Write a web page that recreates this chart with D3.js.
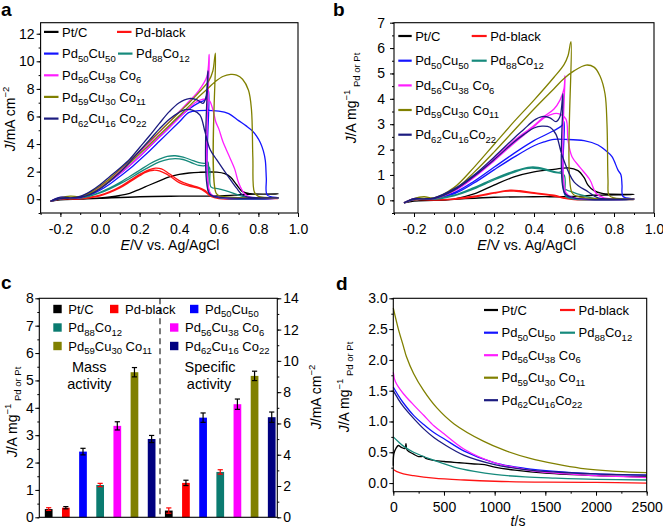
<!DOCTYPE html>
<html>
<head>
<meta charset="utf-8">
<script src="https://cdn.jsdelivr.net/npm/d3@7"></script>
<style>
body { margin: 0; background: #fff; }
svg { font-family: "Liberation Sans", Arial, Helvetica, sans-serif; }
</style>
</head>
<body>
<script>
// ---- series names / colours (same order in every panel)
var names = ["Pt/C", "Pd-black", "Pd_50Cu_50", "Pd_88Co_12", "Pd_56Cu_38 Co_6", "Pd_59Cu_30 Co_11", "Pd_62Cu_16 Co_22"];
var namesBD = ["Pt/C", "Pd-black", "Pd_50Cu_50", "Pd_88Co_12", "Pd_56Cu_38 Co_6", "Pd_59Cu_30 Co_11", "Pd_62Cu_16Co_22"];
var lineColors = ["#000000", "#ff1414", "#1414ff", "#168a7c", "#ff1eff", "#808000", "#1c1c80"];
var barColors = ["#000000", "#ff0000", "#0000ff", "#0b7b70", "#ff00ff", "#808000", "#000080"];

// ---- panel a: CV, J / mA cm-2 vs E / V  ([E, J], forward then reverse)
var cvA_ptc = [[-0.25,-0.15],[-0.2,0.05],[-0.1,0.0],[0,0.1],[0.05,0.17],[0.1,0.27],[0.15,0.43],[0.2,0.72],[0.25,1.03],[0.3,1.33],[0.35,1.62],[0.4,1.8],[0.45,1.9],[0.5,1.95],[0.59,1.96],[0.63,1.85],[0.66,1.6],[0.69,1.05],[0.72,0.55],[0.76,0.4],[0.9,0.38],
  [0.75,0.36],[0.68,0.3],[0.6,0.24],[0.4,0.22],[0.2,0.18],[0,0.06],[-0.1,0.0],[-0.2,-0.05],[-0.25,-0.15]];
var cvA_pdb = [[-0.25,-0.15],[-0.2,0.1],[-0.15,0.05],[-0.1,0.05],[-0.05,0.15],[0,0.3],[0.05,0.55],[0.1,0.9],[0.15,1.35],[0.2,1.8],[0.25,2.15],[0.28,2.25],[0.31,2.2],[0.35,1.85],[0.4,1.35],[0.45,1.05],[0.5,0.85],[0.53,0.65],[0.56,0.25],[0.6,0.08],[0.9,0.05],
  [0.6,0.04],[0.56,0.2],[0.53,0.55],[0.5,0.78],[0.45,0.95],[0.4,1.2],[0.35,1.7],[0.3,2.05],[0.27,2.1],[0.23,1.95],[0.2,1.7],[0.15,1.25],[0.1,0.82],[0.05,0.5],[0,0.25],[-0.1,0.03],[-0.2,0.0],[-0.25,-0.15]];
var cvA_cu = [[-0.25,-0.15],[-0.2,0.12],[-0.15,0.08],[-0.1,0.15],[-0.05,0.4],[0,0.8],[0.05,1.3],[0.1,1.85],[0.15,2.45],[0.2,3.1],[0.25,3.8],[0.3,4.5],[0.35,5.2],[0.4,5.95],[0.45,6.55],[0.5,7.0],[0.53,7.2],[0.548,7.9],[0.556,0.4],[0.6,0.12],[0.9,0.1],
  [0.845,0.3],[0.84,1.5],[0.835,2.8],[0.825,3.5],[0.81,4.1],[0.79,4.6],[0.77,4.95],[0.74,5.3],[0.7,5.7],[0.65,6.2],[0.6,6.38],[0.5,6.42],[0.45,6.3],[0.4,5.6],[0.35,4.9],[0.3,4.2],[0.25,3.5],[0.2,2.85],[0.15,2.2],[0.1,1.65],[0.05,1.1],[0,0.65],[-0.05,0.3],[-0.1,0.1],[-0.2,0.05],[-0.25,-0.15]];
var cvA_co = [[-0.25,-0.15],[-0.2,0.1],[-0.15,0.05],[-0.1,0.1],[-0.05,0.25],[0,0.5],[0.05,0.82],[0.1,1.2],[0.15,1.65],[0.2,2.1],[0.25,2.55],[0.3,2.9],[0.34,3.1],[0.38,3.15],[0.42,3.05],[0.47,2.8],[0.5,2.65],[0.53,2.6],[0.545,2.7],[0.552,0.4],[0.6,0.12],[0.9,0.08],
  [0.75,0.1],[0.7,0.3],[0.65,0.55],[0.6,0.75],[0.56,0.9],[0.553,2.3],[0.54,2.45],[0.52,2.42],[0.5,2.45],[0.47,2.6],[0.42,2.88],[0.38,2.95],[0.35,2.9],[0.3,2.7],[0.25,2.35],[0.2,1.95],[0.15,1.5],[0.1,1.1],[0.05,0.75],[0,0.45],[-0.05,0.22],[-0.1,0.08],[-0.2,0.05],[-0.25,-0.15]];
var cvA_cc6 = [[-0.25,-0.15],[-0.2,0.12],[-0.15,0.1],[-0.1,0.15],[-0.05,0.45],[0,0.9],[0.05,1.45],[0.1,2.05],[0.15,2.7],[0.2,3.4],[0.25,4.1],[0.3,4.85],[0.35,5.6],[0.4,6.35],[0.45,7.1],[0.5,7.9],[0.54,8.9],[0.552,10.5],[0.558,0.4],[0.6,0.15],[0.9,0.1],
  [0.76,0.15],[0.73,0.4],[0.7,1.2],[0.68,2.2],[0.65,3.2],[0.62,4.2],[0.6,5.1],[0.585,5.6],[0.57,6.5],[0.55,7.2],[0.52,7.25],[0.48,7.0],[0.45,6.6],[0.4,5.9],[0.35,5.2],[0.3,4.5],[0.25,3.8],[0.2,3.1],[0.15,2.45],[0.1,1.85],[0.05,1.3],[0,0.8],[-0.05,0.4],[-0.1,0.12],[-0.2,0.05],[-0.25,-0.15]];
var cvA_cc11 = [[-0.25,-0.15],[-0.2,0.1],[-0.15,0.22],[-0.1,0.2],[-0.05,0.5],[0,0.95],[0.05,1.5],[0.1,2.15],[0.15,2.8],[0.2,3.5],[0.25,4.2],[0.3,4.9],[0.35,5.6],[0.4,6.3],[0.45,7.0],[0.5,7.75],[0.55,8.6],[0.57,9.3],[0.583,10.6],[0.588,0.4],[0.62,0.2],[0.9,0.1],
  [0.8,0.2],[0.78,0.5],[0.772,3.0],[0.765,6.5],[0.75,7.9],[0.72,8.7],[0.69,9.0],[0.66,9.05],[0.62,8.9],[0.58,8.5],[0.55,8.1],[0.5,7.45],[0.45,6.75],[0.4,6.05],[0.35,5.35],[0.3,4.65],[0.25,3.95],[0.2,3.3],[0.15,2.6],[0.1,1.95],[0.05,1.35],[0,0.8],[-0.05,0.4],[-0.1,0.15],[-0.15,0.1],[-0.2,0.05],[-0.25,-0.15]];
var cvA_cc22 = [[-0.25,-0.15],[-0.2,0.15],[-0.15,0.1],[-0.1,0.2],[-0.05,0.55],[0,1.05],[0.05,1.65],[0.1,2.25],[0.15,2.9],[0.2,3.75],[0.25,4.6],[0.3,5.5],[0.35,6.35],[0.4,7.0],[0.45,7.3],[0.49,7.2],[0.52,6.95],[0.535,7.4],[0.545,9.3],[0.552,0.4],[0.6,0.15],[0.9,0.1],
  [0.75,0.15],[0.72,0.3],[0.69,0.8],[0.64,1.8],[0.59,2.85],[0.556,3.6],[0.53,4.9],[0.505,6.1],[0.47,6.45],[0.43,6.5],[0.4,6.3],[0.35,5.8],[0.3,5.1],[0.25,4.3],[0.2,3.5],[0.15,2.7],[0.1,1.95],[0.05,1.3],[0,0.75],[-0.05,0.35],[-0.1,0.12],[-0.2,0.05],[-0.25,-0.15]];

// ---- panel b: CV, J / A mg-1 vs E / V
var cvB_ptc = [[-0.25,-0.1],[-0.2,0.03],[-0.1,0.0],[0,0.05],[0.1,0.25],[0.2,0.6],[0.3,0.92],[0.4,1.12],[0.5,1.22],[0.57,1.28],[0.62,1.17],[0.65,0.9],[0.67,0.6],[0.7,0.38],[0.74,0.27],[0.9,0.23],
  [0.7,0.2],[0.6,0.15],[0.4,0.14],[0.2,0.12],[0,0.04],[-0.1,0.0],[-0.2,-0.03],[-0.25,-0.1]];
var cvB_pdb = [[-0.25,-0.1],[-0.2,0.05],[-0.1,0.02],[0,0.06],[0.1,0.16],[0.2,0.3],[0.28,0.4],[0.33,0.38],[0.4,0.3],[0.5,0.2],[0.55,0.1],[0.6,0.04],[0.9,0.03],
  [0.6,0.03],[0.55,0.08],[0.5,0.17],[0.4,0.27],[0.3,0.36],[0.25,0.35],[0.2,0.28],[0.1,0.13],[0,0.04],[-0.1,0.01],[-0.2,0.02],[-0.25,-0.1]];
var cvB_cu = [[-0.25,-0.1],[-0.2,0.07],[-0.15,0.06],[-0.1,0.08],[0,0.3],[0.1,0.75],[0.2,1.3],[0.3,1.85],[0.4,2.35],[0.5,2.75],[0.54,2.95],[0.55,3.1],[0.556,0.2],[0.6,0.08],[0.9,0.05],
  [0.845,0.15],[0.84,0.6],[0.835,1.0],[0.82,1.19],[0.79,1.72],[0.76,1.95],[0.72,2.18],[0.65,2.35],[0.555,2.4],[0.5,2.4],[0.45,2.3],[0.4,2.15],[0.3,1.7],[0.2,1.2],[0.1,0.68],[0,0.25],[-0.1,0.06],[-0.2,0.04],[-0.25,-0.1]];
var cvB_co = [[-0.25,-0.1],[-0.2,0.06],[-0.1,0.05],[0,0.2],[0.1,0.5],[0.2,0.85],[0.3,1.15],[0.37,1.3],[0.42,1.3],[0.47,1.2],[0.52,1.1],[0.54,1.12],[0.548,0.5],[0.6,0.3],[0.65,0.18],[0.7,0.08],[0.9,0.03],
  [0.6,0.05],[0.56,0.15],[0.55,1.0],[0.5,1.1],[0.42,1.25],[0.36,1.25],[0.3,1.1],[0.2,0.8],[0.1,0.45],[0,0.18],[-0.1,0.04],[-0.2,0.03],[-0.25,-0.1]];
var cvB_cc6 = [[-0.25,-0.1],[-0.2,0.07],[-0.15,0.06],[-0.1,0.08],[0,0.4],[0.1,0.95],[0.2,1.65],[0.3,2.35],[0.4,2.95],[0.45,3.3],[0.5,3.6],[0.53,3.95],[0.55,4.4],[0.555,4.9],[0.56,0.3],[0.6,0.1],[0.9,0.05],
  [0.75,0.1],[0.71,0.28],[0.68,0.8],[0.63,1.3],[0.59,1.72],[0.57,2.37],[0.56,3.2],[0.53,3.4],[0.5,3.42],[0.45,3.25],[0.4,2.9],[0.3,2.25],[0.2,1.55],[0.1,0.9],[0,0.36],[-0.1,0.07],[-0.2,0.04],[-0.25,-0.1]];
var cvB_cc11 = [[-0.25,-0.1],[-0.2,0.07],[-0.15,0.14],[-0.1,0.1],[0,0.5],[0.1,1.3],[0.2,2.2],[0.3,3.1],[0.4,3.95],[0.5,4.85],[0.55,5.35],[0.57,5.7],[0.585,6.25],[0.59,0.3],[0.62,0.15],[0.9,0.05],
  [0.8,0.1],[0.775,0.2],[0.77,0.8],[0.765,3.0],[0.755,4.2],[0.73,4.9],[0.7,5.25],[0.66,5.33],[0.6,5.1],[0.55,4.8],[0.5,4.4],[0.4,3.6],[0.3,2.75],[0.2,1.9],[0.1,1.1],[0,0.4],[-0.1,0.08],[-0.2,0.05],[-0.25,-0.1]];
var cvB_cc22 = [[-0.25,-0.1],[-0.2,0.07],[-0.15,0.06],[-0.1,0.1],[0,0.45],[0.1,1.0],[0.2,1.7],[0.3,2.45],[0.35,2.8],[0.4,3.15],[0.44,3.3],[0.48,3.25],[0.51,3.1],[0.53,3.3],[0.545,4.2],[0.552,0.3],[0.6,0.1],[0.9,0.05],
  [0.72,0.1],[0.67,0.34],[0.6,0.73],[0.54,1.78],[0.51,2.6],[0.48,2.88],[0.44,2.92],[0.4,2.85],[0.35,2.6],[0.3,2.3],[0.2,1.6],[0.1,0.95],[0,0.4],[-0.1,0.07],[-0.2,0.04],[-0.25,-0.1]];

// ---- panel c: bars
var massAct = [0.3, 0.35, 2.4, 1.18, 3.34, 5.3, 2.86];      // A mg-1 (left axis)
var massErr = [0.05, 0.04, 0.12, 0.06, 0.15, 0.17, 0.13];
var specAct = [0.43, 2.2, 6.37, 2.9, 7.23, 9.04, 6.4];      // mA cm-2 (right axis)
var specErr = [0.17, 0.17, 0.3, 0.14, 0.33, 0.3, 0.33];
var errColors = ["#ff0000", "#000000", "#000000", "#ff0000", "#000000", "#000000", "#000000"];

// ---- panel d: chronoamperometry [t, J]
var ca_ptc = [[0,0.28],[6,0.48],[25,0.56],[50,0.61],[80,0.58],[115,0.56],[125,0.64],[135,0.54],[200,0.47],[250,0.43],[300,0.43],[320,0.4],[400,0.37],[500,0.35],[650,0.33],[800,0.31],[900,0.3],[1000,0.26],[1200,0.21],[1500,0.16],[2000,0.12],[2500,0.1]];
var ca_pdb = [[0,0.22],[30,0.19],[100,0.15],[200,0.12],[400,0.08],[700,0.05],[1000,0.03],[1500,0.015],[2000,0.01],[2500,0.0]];
var ca_cu = [[0,1.56],[50,1.42],[100,1.3],[200,1.1],[300,0.95],[400,0.82],[500,0.72],[700,0.52],[1000,0.33],[1300,0.24],[1600,0.19],[2000,0.15],[2500,0.13]];
var ca_co = [[0,0.75],[50,0.67],[100,0.6],[200,0.5],[400,0.37],[600,0.26],[800,0.19],[1000,0.14],[1300,0.1],[1600,0.08],[2000,0.06],[2500,0.05]];
var ca_cc6 = [[0,1.8],[20,1.65],[100,1.45],[200,1.27],[300,1.1],[400,0.93],[500,0.8],[700,0.55],[1000,0.33],[1300,0.22],[1600,0.16],[2000,0.12],[2500,0.09]];
var ca_cc11 = [[0,2.84],[50,2.5],[100,2.22],[130,2.05],[200,1.78],[300,1.5],[430,1.22],[600,0.96],[888,0.68],[1100,0.53],[1350,0.4],[1600,0.31],[1850,0.24],[2200,0.19],[2500,0.17]];
var ca_cc22 = [[0,1.5],[50,1.36],[100,1.24],[200,1.05],[300,0.88],[400,0.74],[500,0.63],[700,0.45],[1000,0.3],[1300,0.22],[1600,0.18],[2000,0.15],[2500,0.13]];

var tickFont = 14, titleFont = 14, legFont = 13;

var svg = d3.select("body").append("svg").attr("width", 663).attr("height", 529);

// text with _sub digits
function rich(sel, label, sfs, sdy) {
  var parts = label.split(/(_\d+)/), shift = 0;
  parts.forEach(function(p) {
    if (!p) return;
    var sub = p.charAt(0) === "_";
    var t = sel.append("tspan").text(sub ? p.slice(1) : p);
    var target = sub ? sdy : 0;
    if (target !== shift) t.attr("dy", target - shift);
    shift = target;
    if (sub) t.attr("font-size", sfs);
  });
}
// text from segments {t, it, fs, off}
function segs(sel, list) {
  var shift = 0;
  list.forEach(function(s) {
    var t = sel.append("tspan").text(s.t);
    var off = s.off || 0;
    if (off !== shift) t.attr("dy", off - shift);
    shift = off;
    if (s.it) t.attr("font-style", "italic");
    if (s.fs) t.attr("font-size", s.fs);
  });
}
var segJmA = [{t:"J", it:true}, {t:"/mA cm"}, {t:"\u22122", fs:9.5, off:-6}];
var segJAmg = [{t:"J", it:true}, {t:"/A mg"}, {t:"\u22121", fs:9.5, off:-6}, {t:" Pd or Pt", fs:9.5, off:4}];

function yTitle(x, y, list) {
  var t = svg.append("text").attr("transform", "translate(" + x + "," + y + ") rotate(-90)")
    .attr("text-anchor", "middle").attr("font-size", titleFont);
  segs(t, list);
}
function xTitle(x, y, list) {
  var t = svg.append("text").attr("x", x).attr("y", y).attr("text-anchor", "middle").attr("font-size", titleFont);
  segs(t, list);
}
function styleAxis(g) {
  g.attr("font-family", null).attr("font-size", tickFont);
  g.select(".domain").remove();
  g.selectAll("text").attr("fill", "#000");
}

// axes + frame for line panels
function linePanel(o) {
  var x = d3.scaleLinear().domain(o.xd).range(o.xr);
  var y = d3.scaleLinear().domain(o.yd).range(o.yr);
  var g = svg.append("g");
  g.append("g").attr("transform", "translate(0," + o.yr[0] + ")")
    .call(d3.axisBottom(x).tickValues(o.xMinor).tickSize(2).tickFormat("")).call(styleAxis);
  g.append("g").attr("transform", "translate(0," + o.yr[0] + ")")
    .call(d3.axisBottom(x).tickValues(o.xMajor).tickSize(4).tickPadding(o.xPad).tickFormat(o.xFmt)).call(styleAxis);
  g.append("g").attr("transform", "translate(" + o.xr[0] + ",0)")
    .call(d3.axisLeft(y).tickValues(o.yMinor).tickSize(2).tickFormat("")).call(styleAxis);
  g.append("g").attr("transform", "translate(" + o.xr[0] + ",0)")
    .call(d3.axisLeft(y).tickValues(o.yMajor).tickSize(4).tickPadding(o.yPad).tickFormat(o.yFmt)).call(styleAxis);
  return {x: x, y: y, g: g};
}
function frame(x0, x1, y0, y1) {
  svg.append("rect").attr("x", x0).attr("y", y1).attr("width", x1 - x0).attr("height", y0 - y1)
    .attr("fill", "none").attr("stroke", "#000").attr("stroke-width", 1.1);
}
function drawLines(p, sets) {
  var line = d3.line().x(function(d) { return p.x(d[0]); }).y(function(d) { return p.y(d[1]); })
    .curve(d3.curveCatmullRom.alpha(0.5));
  sets.forEach(function(s, i) {
    p.g.append("path").attr("d", line(s)).attr("fill", "none")
      .attr("stroke", lineColors[i]).attr("stroke-width", 1.3).attr("stroke-linejoin", "round");
  });
}
function lineLegend(labels, pos) {
  labels.forEach(function(l, i) {
    var q = pos[i];
    svg.append("line").attr("x1", q[0]).attr("x2", q[0] + q[2]).attr("y1", q[1]).attr("y2", q[1])
      .attr("stroke", lineColors[i]).attr("stroke-width", 2.2);
    var t = svg.append("text").attr("x", q[0] + q[2] + 3.5).attr("y", q[1] + 4.6).attr("font-size", legFont);
    rich(t, l, 9.5, 3.5);
  });
}
function letter(l, x, y) {
  svg.append("text").attr("x", x).attr("y", y).attr("font-size", 19).attr("font-weight", "bold").text(l);
}
function fmt1(d) { return d.toFixed(1); }
function fmt0(d) { return String(d); }

// ================= panel a
var pa = linePanel({xd: [-0.3, 1.0], xr: [40.6, 298], yd: [-1, 12.8], yr: [213, 22.7],
  xMajor: d3.range(-0.2, 1.01, 0.2), xMinor: d3.range(-0.3, 1.01, 0.1), xFmt: fmt1, xPad: 7.5,
  yMajor: d3.range(0, 12.1, 2), yMinor: d3.range(-1, 12.1, 1), yFmt: fmt0, yPad: 2});
drawLines(pa, [cvA_ptc, cvA_pdb, cvA_cu, cvA_co, cvA_cc6, cvA_cc11, cvA_cc22]);
frame(40.6, 298, 213, 22.7);
var rA = [31.9, 53.6, 75.3, 96.9, 118.6];
lineLegend(names, [[44, rA[0], 14.5], [117, rA[0], 14.5], [44, rA[1], 14.5], [118, rA[1], 14.5], [44, rA[2], 14.5], [44, rA[3], 14.5], [44, rA[4], 14.5]]);
yTitle(15, 119, segJmA);
xTitle(170, 250, [{t:"E", it:true}, {t:"/V vs. Ag/AgCl"}]);
letter("a", 1, 16);

// ================= panel b
var pb = linePanel({xd: [-0.3, 1.0], xr: [394, 654], yd: [-0.5, 7], yr: [213, 22.7],
  xMajor: d3.range(-0.2, 1.01, 0.2), xMinor: d3.range(-0.3, 1.01, 0.1), xFmt: fmt1, xPad: 7.5,
  yMajor: d3.range(0, 7.1, 1), yMinor: d3.range(-0.5, 7.1, 0.5), yFmt: fmt0, yPad: 5});
drawLines(pb, [cvB_ptc, cvB_pdb, cvB_cu, cvB_co, cvB_cc6, cvB_cc11, cvB_cc22]);
frame(394, 654, 213, 22.7);
var rB = [36, 60.7, 85.4, 110, 134.7];
lineLegend(namesBD, [[398.3, rB[0], 13.4], [471.7, rB[0], 15], [398.3, rB[1], 13.4], [471.7, rB[1], 15], [398.3, rB[2], 13.4], [398.3, rB[3], 13.4], [398.3, rB[4], 13.4]]);
yTitle(356, 98, segJAmg);
xTitle(526.7, 250, [{t:"E", it:true}, {t:"/V vs. Ag/AgCl"}]);
letter("b", 333, 16);

// ================= panel c
var yL = d3.scaleLinear().domain([0, 8]).range([517.3, 298.3]);
var yR = d3.scaleLinear().domain([0, 14]).range([517.3, 298.3]);
var slots = d3.range(14);
var xb = d3.scaleBand().domain(slots).range([40.1, 280.3]).paddingInner(0.55).paddingOuter(0.275);
var gc = svg.append("g");
gc.append("g").attr("transform", "translate(39.3,0)")
  .call(d3.axisLeft(yL).tickValues(d3.range(0, 8.1, 0.5)).tickSize(2).tickFormat("")).call(styleAxis);
gc.append("g").attr("transform", "translate(39.3,0)")
  .call(d3.axisLeft(yL).tickValues(d3.range(0, 8.1, 1)).tickSize(4).tickPadding(1.5).tickFormat(fmt0)).call(styleAxis);
gc.append("g").attr("transform", "translate(277.3,0)")
  .call(d3.axisRight(yR).tickValues(d3.range(0, 14.1, 1)).tickSize(2).tickFormat("")).call(styleAxis);
gc.append("g").attr("transform", "translate(277.3,0)")
  .call(d3.axisRight(yR).tickValues(d3.range(0, 14.1, 2)).tickSize(4).tickPadding(2).tickFormat(fmt0)).call(styleAxis);

var barRows = [];
massAct.forEach(function(v, i) { barRows.push({slot: i, s: i, top: yL(v), hi: yL(v + massErr[i]), lo: yL(v - massErr[i])}); });
specAct.forEach(function(v, i) { barRows.push({slot: 7 + i, s: i, top: yR(v), hi: yR(v + specErr[i]), lo: yR(Math.max(0, v - specErr[i]))}); });

gc.selectAll(".bar").data(barRows).enter().append("rect")
  .attr("class", "bar")
  .attr("x", function(d) { return xb(d.slot); })
  .attr("y", function(d) { return d.top; })
  .attr("width", xb.bandwidth())
  .attr("height", function(d) { return 517.3 - d.top; })
  .attr("fill", function(d) { return barColors[d.s]; });
var eb = gc.selectAll(".err").data(barRows).enter().append("g").attr("class", "err")
  .attr("stroke", function(d) { return errColors[d.s]; }).attr("stroke-width", 1.2);
eb.append("line").attr("x1", function(d) { return xb(d.slot) + xb.bandwidth() / 2; })
  .attr("x2", function(d) { return xb(d.slot) + xb.bandwidth() / 2; })
  .attr("y1", function(d) { return d.hi; }).attr("y2", function(d) { return d.lo; });
eb.append("line").attr("x1", function(d) { return xb(d.slot) + xb.bandwidth() / 2 - 2.6; })
  .attr("x2", function(d) { return xb(d.slot) + xb.bandwidth() / 2 + 2.6; })
  .attr("y1", function(d) { return d.hi; }).attr("y2", function(d) { return d.hi; });
eb.append("line").attr("x1", function(d) { return xb(d.slot) + xb.bandwidth() / 2 - 2.6; })
  .attr("x2", function(d) { return xb(d.slot) + xb.bandwidth() / 2 + 2.6; })
  .attr("y1", function(d) { return d.lo; }).attr("y2", function(d) { return d.lo; });

svg.append("line").attr("x1", 160).attr("x2", 160).attr("y1", 298.3).attr("y2", 517.3)
  .attr("stroke", "#333").attr("stroke-width", 1.3).attr("stroke-dasharray", "6,4");
frame(39.3, 277.3, 517.3, 298.3);

// legend c (squares)
var legC = [[53.3, 309], [110, 309], [190, 309], [53.3, 327.5], [170, 327.5], [53.3, 346], [170, 346]];
names.forEach(function(l, i) {
  var q = legC[i];
  svg.append("rect").attr("x", q[0]).attr("y", q[1] - 4.2).attr("width", 8.4).attr("height", 8.4).attr("fill", barColors[i]);
  var t = svg.append("text").attr("x", q[0] + 15).attr("y", q[1] + 4.6).attr("font-size", legFont);
  rich(t, l, 9.5, 3.5);
});
[["Mass", 89.3, 371.5], ["activity", 89.3, 389], ["Specific", 210, 371.5], ["activity", 209, 389]].forEach(function(s) {
  svg.append("text").attr("x", s[1]).attr("y", s[2]).attr("text-anchor", "middle").attr("font-size", 14.5).text(s[0]);
});
yTitle(17, 412, segJAmg);
yTitle(321, 397, segJmA);
letter("c", 1, 289);

// ================= panel d
var pd = linePanel({xd: [0, 2500], xr: [393.3, 646.7], yd: [-0.14, 3.0], yr: [491.7, 298.3],
  xMajor: d3.range(0, 2501, 500), xMinor: d3.range(0, 2501, 250), xFmt: fmt0, xPad: 6.5,
  yMajor: d3.range(0, 3.01, 0.5), yMinor: d3.range(0, 3.01, 0.25), yFmt: fmt1, yPad: 1.5});
drawLines(pd, [ca_ptc, ca_pdb, ca_cu, ca_co, ca_cc6, ca_cc11, ca_cc22]);
frame(393.3, 646.7, 491.7, 298.3);
var rD = [310, 332.7, 355.2, 377.7, 400.2];
lineLegend(namesBD, [[484, rD[0], 14], [560, rD[0], 15], [484, rD[1], 14], [560, rD[1], 15], [484, rD[2], 14], [484, rD[3], 14], [484, rD[4], 14]]);
yTitle(349, 387, segJAmg);
xTitle(518, 526, [{t:"t", it:true}, {t:"/s"}]);
letter("d", 336, 290);
</script>
</body>
</html>
